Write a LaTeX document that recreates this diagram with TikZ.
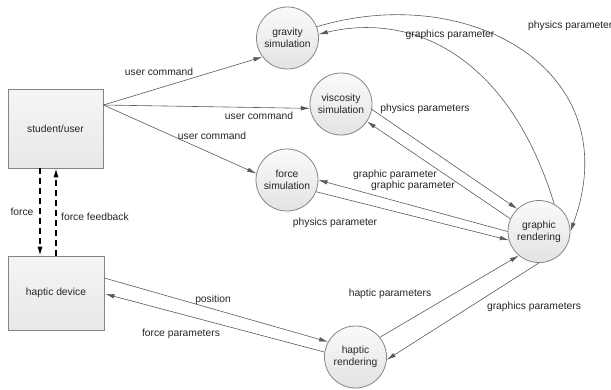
\documentclass[tikz,border=0pt]{standalone}
\usepackage{fontspec}
\setmainfont{Liberation Sans}
\usetikzlibrary{arrows.meta,calc}
\definecolor{edgec}{HTML}{5A5A5A}
\definecolor{borderc}{HTML}{858585}
\begin{document}
\begin{tikzpicture}[x=1pt,y=-1pt,
  every node/.style={font=\fontsize{10.3}{12}\selectfont, text=black!85},
  proc/.style={circle, draw=borderc, line width=0.8pt, minimum size=62pt, inner sep=0pt,
    align=center, top color=white!98!black, bottom color=white!89!black},
  entity/.style={rectangle, draw=borderc, line width=0.8pt, inner sep=0pt,
    top color=white!96!black, bottom color=white!91!black},
  flow/.style={draw=edgec, line width=0.6pt, -{Latex[length=9pt,width=4.5pt]}},
  dflow/.style={draw=black, line width=1.2pt, dash pattern=on 6pt off 4pt, -{Latex[length=9pt,width=5pt]}},
  lbl/.style={inner sep=0pt}]
\useasboundingbox (0,0) rectangle (611,389);
\fill[white] (0,0) rectangle (611,389);

% entities
\node[entity, minimum width=95pt, minimum height=79pt] (student) at (55.5,128.5) {student/user};
\node[entity, minimum width=96pt, minimum height=74pt] (haptic) at (56,293) {haptic device};

% processes
\node[proc] (grav) at (287.5,38) {gravity\\simulation};
\node[proc] (visc) at (341,104) {viscosity\\simulation};
\node[proc] (force) at (287,180) {force\\simulation};
\node[proc] (grend) at (539,231.5) {graphic\\rendering};
\node[proc] (hrend) at (355.5,357) {haptic\\rendering};

% user commands
\draw[flow] ($(student.east)+(0,-23.5)$) -- (grav.217);
\draw[flow] ($(student.east)+(0,-23.5)$) -- (visc.188);
\draw[flow] ($(student.east)+(0,-23.5)$) -- (force.168);
\node[lbl] (l1) at (159,72) {user command};
\node[lbl] (l2) at (259,116) {user command};
\node[lbl] (l3) at (212,136) {user command};

% dashed force / force feedback
\draw[dflow] ([xshift=-15.5pt]student.south) -- ([xshift=-15.5pt]student.south |- haptic.north);
\draw[dflow] (haptic.north) -- (haptic.north |- student.south);
\node[lbl] (l4) at (22,212) {force};
\node[lbl] (l5) at (95,217) {force feedback};

% haptic device <-> haptic rendering
\draw[flow] ($(haptic.east)+(0,-15)$) -- (hrend.151);
\draw[flow] (hrend.171) -- ($(haptic.east)+(1,1)$);
\node[lbl] (l6) at (213,300) {position};
\node[lbl] (l7) at (181,334) {force parameters};

% haptic rendering <-> graphic rendering
\draw[flow] (hrend.39) -- (grend.230);
\draw[flow] (grend.270) -- (hrend.355);
\node[lbl] (l8) at (390,294) {haptic parameters};
\node[lbl] (l9) at (534,307) {graphics parameters};

% force simulation <-> graphic rendering
\draw[flow] (force.338) -- (grend.196);
\draw[flow] (grend.180) -- (force.0);
\node[lbl] (l10) at (335,223) {physics parameter};
\node[lbl] (l11) at (395,175) {graphic parameter};

% viscosity simulation <-> graphic rendering
\draw[flow] (visc.350) -- (grend.134);
\draw[flow] (grend.156) -- (visc.326);
\node[lbl] (l12) at (425,109) {physics parameters};
\node[lbl] (l13) at (413,186) {graphic parameter};

% gravity simulation <-> graphic rendering
\draw[flow] (grav.21) .. controls +(152,-46) and +(59,-161) .. (grend.0);
\draw[flow] (grend.61) .. controls +(-44,-144) and +(98,-23) .. (grav.7);
\node[lbl, anchor=west] (l14) at (528,26) {physics parameter};
\node[lbl] (l15) at (450,35) {graphics parameter};
\end{tikzpicture}
\end{document}
